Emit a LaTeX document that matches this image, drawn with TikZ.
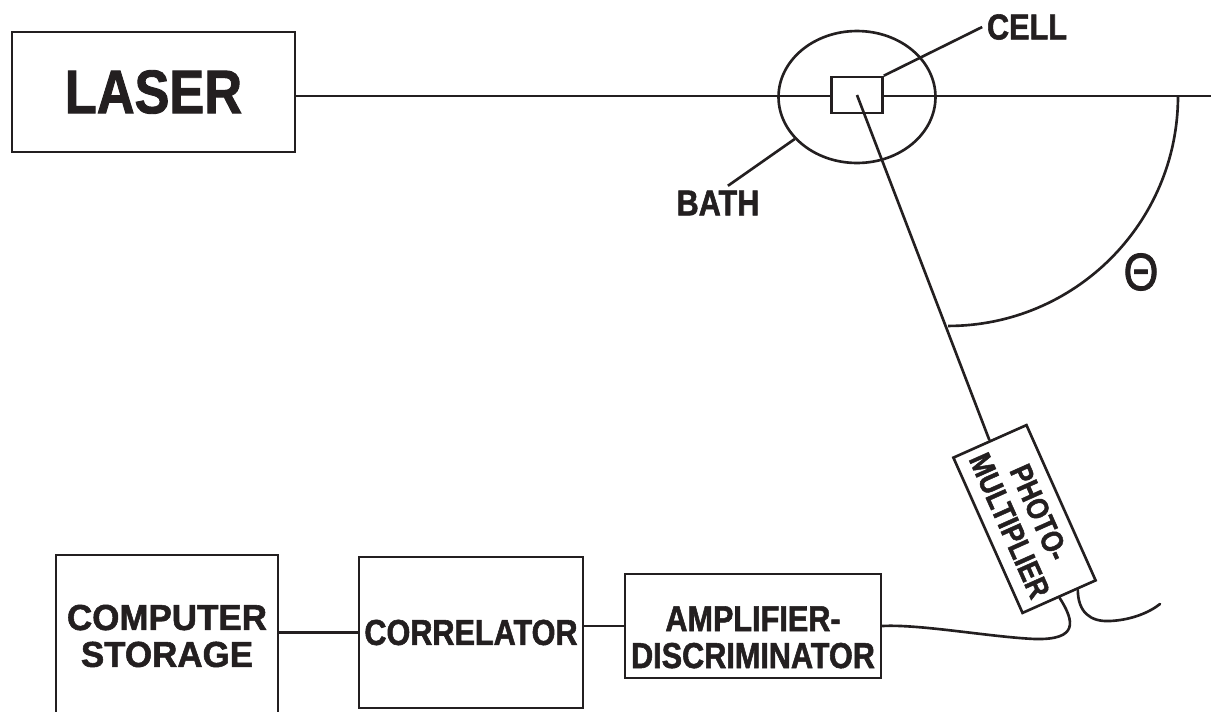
\documentclass[tikz,border=0pt]{standalone}
\usepackage{fontspec}
\newfontfamily\labelfont[FakeStretch=0.85,FakeBold=1.5]{Liberation Sans}
\usetikzlibrary{shapes.geometric}
\definecolor{ink}{HTML}{231F20}

\begin{document}
\begin{tikzpicture}[
  x=0.02cm, y=0.02cm,
  line width=1.5pt, color=ink,
  block/.style={draw, fill=white, inner sep=0pt, align=center, font=\labelfont\bfseries\fontsize{20.5}{21}\selectfont},
  lbl/.style={inner sep=2pt, font=\labelfont\bfseries\fontsize{20.5}{21}\selectfont},
  wire/.style={line cap=round}
]
\useasboundingbox (0,0) rectangle (1211,-711);
\clip (0,0) rectangle (1211,-711);

% Source, bath and cell
\node[block, minimum width=5.66cm, minimum height=2.4cm, font=\labelfont\bfseries\fontsize{35}{36}\selectfont] (laser) at (153.5,-92) {LASER};
\coordinate (beamend) at (1211,-96);
\draw (laser.east |- beamend) -- (beamend);
\node[ellipse, draw, minimum width=3.14cm, minimum height=2.64cm, inner sep=0pt] (bath) at (857,-97) {};
\node[draw, fill=white, minimum width=1.02cm, minimum height=0.72cm, inner sep=0pt] (cell) at (857,-95) {};
\node[lbl] (celllbl) at (1027,-27) {CELL};
\node[lbl] (bathlbl) at (718,-203) {BATH};
\draw (cell.north east) -- (celllbl.west);
\draw (bath.214) -- (bathlbl.60);

% Detector arm and scattering angle
\node[block, rotate=-66, minimum width=3.4cm, minimum height=1.6cm, font=\labelfont\bfseries\fontsize{17.5}{18.5}\selectfont] (pmt) at (1024.5,-519) {PHOTO-\\MULTIPLIER};
\draw (cell.center) -- (pmt.west);
\draw (1178,-96) arc[start angle=0, end angle=-90, radius=4.6cm];
\node[font=\labelfont\fontsize{30}{30}\selectfont] (theta) at (1141,-272) {Θ};

% Counting electronics
\node[block, minimum width=4.44cm, minimum height=3.24cm, font=\labelfont\bfseries\fontsize{20.5}{21}\selectfont\addfontfeature{FakeStretch=0.97}] (computer) at (167,-636) {COMPUTER\\STORAGE};
\node[block, minimum width=4.48cm, minimum height=3.02cm] (correlator) at (471,-632.5) {CORRELATOR};
\node[block, minimum width=5.12cm, minimum height=2.08cm] (amp) at (753,-626) {\rule{0pt}{27pt}AMPLIFIER-\\DISCRIMINATOR};
\draw (correlator.west) -- (correlator.west -| computer.east);
\draw (amp.west) -- (amp.west -| correlator.east);
\draw[wire] (pmt.east) .. controls (1075,-622) and (1078,-640) .. (1035,-639) .. controls (990,-637) and (920,-624) .. (amp.east);
\coordinate (wireend) at (1160,-604);
\draw[wire] (pmt.13) .. controls (1078,-612) and (1090,-622) .. (1110,-621) .. controls (1132,-620) and (1150,-612) .. (wireend);
\end{tikzpicture}
\end{document}
